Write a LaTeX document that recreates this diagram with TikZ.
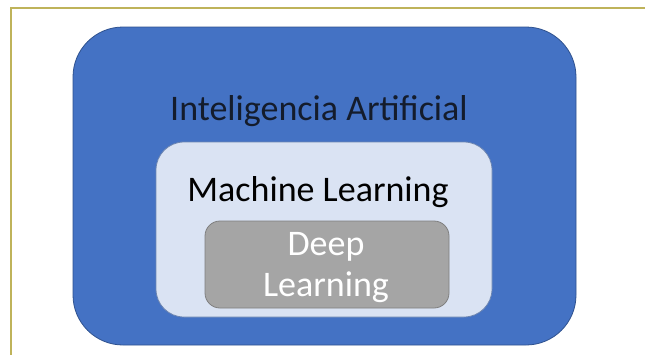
\documentclass[tikz,border=0pt]{standalone}
\usepackage{fontspec}
\setmainfont{Carlito}
\usepackage{tikz}
\usetikzlibrary{positioning,calc}

\definecolor{ai-blue}{HTML}{4472C4}
\definecolor{ai-edge}{HTML}{2F528F}
\definecolor{ml-blue}{HTML}{DAE3F3}
\definecolor{dl-gray}{HTML}{A5A5A5}
\definecolor{dl-edge}{HTML}{7F7F7F}
\definecolor{frame-yellow}{HTML}{BFB35A}
\definecolor{ia-text}{HTML}{141C2C}

\tikzset{
  box/.style={draw, line width=0.8pt, inner sep=0pt},
  ai-box/.style={box, draw=ai-edge, fill=ai-blue, rounded corners=50pt},
  ml-box/.style={box, draw=ai-edge!70, fill=ml-blue, rounded corners=28pt},
  dl-box/.style={box, draw=dl-edge, fill=dl-gray, rounded corners=15pt},
  label/.style={anchor=base, inner sep=0pt, font=\fontsize{36}{42}\selectfont}
}

\begin{document}
\begin{tikzpicture}[x=1pt, y=-1pt]
        \useasboundingbox (0,0) rectangle (645,354);
        \fill[white] (0,0) rectangle (645,354);

        \draw[frame-yellow, line width=1.5pt] (646,8) -- (11,8) -- (11,355);

        \node[ai-box, minimum width=503pt, minimum height=318pt] (ai) at (324.5,186) {};
        \node[ml-box, minimum width=336pt, minimum height=175pt] (ml) at (324,229.5) {};
        \node[dl-box, minimum width=244pt, minimum height=87pt] (dl) at (327,264.5) {};

        \node[label, text=ia-text] (ai-t) at (319,120) {Inteligencia Artificial};
        \node[label, text=black] (ml-t) at (318,201) {Machine Learning};
        \node[label, text=white] (dl-t-top) at (326,255.5) {Deep};
        \node[label, text=white, below = 40.5pt of dl-t-top.base, anchor=base] (dl-t-bottom) {Learning};
        %\node[below = 0 of dl] {};
      \end{tikzpicture}
\end{document}
